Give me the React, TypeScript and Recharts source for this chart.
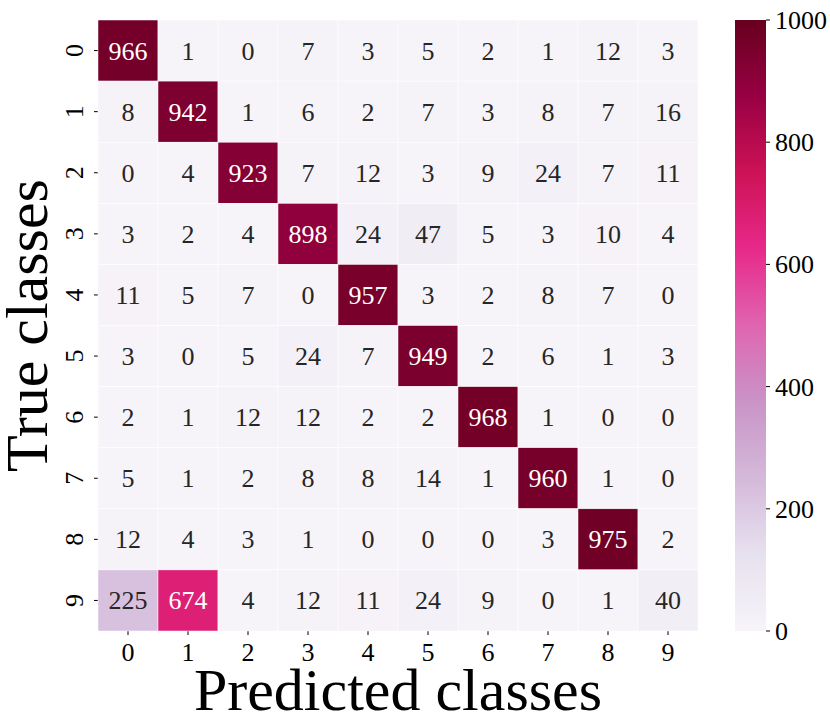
import React from 'react';
import { ScatterChart, Scatter, XAxis, YAxis, BarChart, Bar, Label } from 'recharts';

// confusion matrix rows = true class, cols = predicted class
const classes = ['0', '1', '2', '3', '4', '5', '6', '7', '8', '9'];
const row0 = [966, 1, 0, 7, 3, 5, 2, 1, 12, 3];
const row1 = [8, 942, 1, 6, 2, 7, 3, 8, 7, 16];
const row2 = [0, 4, 923, 7, 12, 3, 9, 24, 7, 11];
const row3 = [3, 2, 4, 898, 24, 47, 5, 3, 10, 4];
const row4 = [11, 5, 7, 0, 957, 3, 2, 8, 7, 0];
const row5 = [3, 0, 5, 24, 7, 949, 2, 6, 1, 3];
const row6 = [2, 1, 12, 12, 2, 2, 968, 1, 0, 0];
const row7 = [5, 1, 2, 8, 8, 14, 1, 960, 1, 0];
const row8 = [12, 4, 3, 1, 0, 0, 0, 3, 975, 2];
const row9 = [225, 674, 4, 12, 11, 24, 9, 0, 1, 40];
const matrix = [row0, row1, row2, row3, row4, row5, row6, row7, row8, row9];
const colorbarTicks = [0, 200, 400, 600, 800, 1000];

// matplotlib PuRd
const PURD = ['#f7f4f9', '#e7e1ef', '#d4b9da', '#c994c7', '#df65b0', '#e7298a', '#ce1256', '#980043', '#67001f'];
const VMAX = 1000;

const FONT = "'Liberation Serif', 'Times New Roman', serif";
const FS = 26;

const hex = (h: string) => [1, 3, 5].map(i => parseInt(h.slice(i, i + 2), 16));

const purd = (v: number) => {
    const t = Math.max(0, Math.min(1, v / VMAX)) * (PURD.length - 1);
    const i = Math.min(Math.floor(t), PURD.length - 2);
    const f = t - i;
    const a = hex(PURD[i]);
    const b = hex(PURD[i + 1]);
    return a.map((c, k) => Math.round(c + (b[k] - c) * f));
};

const luminance = (rgb: number[]) => {
    const lin = rgb.map(c => {
        const s = c / 255;
        return s <= 0.03928 ? s / 12.92 : Math.pow((s + 0.055) / 1.055, 2.4);
    });
    return 0.2126 * lin[0] + 0.7152 * lin[1] + 0.0722 * lin[2];
};

const cells = matrix.flatMap((row, r) => row.map((v, c) => ({ x: c, y: r, v })));

const PLOT_W = 600;
const PLOT_H = 611;
const CELL_W = PLOT_W / classes.length;
const CELL_H = PLOT_H / classes.length;

const CellShape = (props: any) => {
    const { cx, cy, payload } = props;
    const rgb = purd(payload.v);
    const textColor = luminance(rgb) > 0.408 ? '#262626' : '#ffffff';
    return (
        <g>
            <rect
                x={cx - CELL_W / 2}
                y={cy - CELL_H / 2}
                width={CELL_W}
                height={CELL_H}
                fill={`rgb(${rgb.join(',')})`}
                stroke="#ffffff"
                strokeWidth={0.5}
            />
            <text
                x={cx}
                y={cy + 9}
                textAnchor="middle"
                fontFamily={FONT}
                fontSize={FS}
                fill={textColor}
            >
                {payload.v}
            </text>
        </g>
    );
};

const YTick = (props: any) => {
    const { y, payload } = props;
    const x = 83;
    return (
        <text
            x={x}
            y={y}
            transform={`rotate(-90, ${x}, ${y})`}
            textAnchor="middle"
            fontFamily={FONT}
            fontSize={FS}
            fill="#000"
        >
            {classes[payload.value]}
        </text>
    );
};

const XTick = (props: any) => {
    const { x, payload } = props;
    return (
        <text x={x} y={661} textAnchor="middle" fontFamily={FONT} fontSize={FS} fill="#000">
            {classes[payload.value]}
        </text>
    );
};

const BarTick = (props: any) => {
    const { x, y, payload } = props;
    return (
        <text x={x + 3} y={y + 9} textAnchor="start" fontFamily={FONT} fontSize={FS} fill="#000">
            {payload.value}
        </text>
    );
};

export default function App() {
    const idx = classes.map((_, i) => i);
    return (
        <div style={{ position: 'absolute', left: 0, top: 0, width: 830, height: 717, background: '#fff' }}>
            <div style={{ position: 'absolute', left: 0, top: 0 }}>
                <ScatterChart width={720} height={717} margin={{ top: 20, right: 22, bottom: 0, left: 0 }}>
                    <XAxis
                        type="number"
                        dataKey="x"
                        domain={[-0.5, 9.5]}
                        ticks={idx}
                        interval={0}
                        height={86}
                        axisLine={false}
                        tickSize={4}
                        tickLine={{ stroke: '#000' }}
                        tick={<XTick />}
                    >
                        <Label
                            content={(p: any) => {
                                const vb = p.viewBox;
                                return (
                                    <text
                                        x={vb.x + vb.width / 2}
                                        y={vb.y + 79}
                                        textAnchor="middle"
                                        fontFamily={FONT}
                                        fontSize={60}
                                        fill="#000"
                                    >
                                        Predicted classes
                                    </text>
                                );
                            }}
                        />
                    </XAxis>
                    <YAxis
                        type="number"
                        dataKey="y"
                        domain={[-0.5, 9.5]}
                        reversed
                        ticks={idx}
                        interval={0}
                        width={98}
                        axisLine={false}
                        tickSize={4}
                        tickLine={{ stroke: '#000' }}
                        tick={<YTick />}
                    >
                        <Label
                            content={(p: any) => {
                                const vb = p.viewBox;
                                const cy = vb.y + vb.height / 2;
                                return (
                                    <text
                                        x={47}
                                        y={cy}
                                        transform={`rotate(-90, 47, ${cy})`}
                                        textAnchor="middle"
                                        fontFamily={FONT}
                                        fontSize={60}
                                        fill="#000"
                                    >
                                        True classes
                                    </text>
                                );
                            }}
                        />
                    </YAxis>
                    <Scatter data={cells} shape={<CellShape />} isAnimationActive={false} />
                </ScatterChart>
            </div>
            <div style={{ position: 'absolute', left: 735, top: 0 }}>
                <BarChart
                    width={95}
                    height={717}
                    data={[{ name: 'cb', v: VMAX }]}
                    margin={{ top: 20, right: 0, bottom: 86, left: 0 }}
                    barCategoryGap={0}
                >
                    <defs>
                        <linearGradient id="purdGrad" x1="0" y1="1" x2="0" y2="0">
                            {PURD.map((c, i) => (
                                <stop key={i} offset={`${(i / (PURD.length - 1)) * 100}%`} stopColor={c} />
                            ))}
                        </linearGradient>
                    </defs>
                    <XAxis dataKey="name" hide />
                    <YAxis
                        orientation="right"
                        domain={[0, VMAX]}
                        ticks={colorbarTicks}
                        interval={0}
                        width={64}
                        axisLine={false}
                        tickSize={4}
                        tickLine={{ stroke: '#000' }}
                        tick={<BarTick />}
                    />
                    <Bar dataKey="v" fill="url(#purdGrad)" isAnimationActive={false} />
                </BarChart>
            </div>
        </div>
    );
}
